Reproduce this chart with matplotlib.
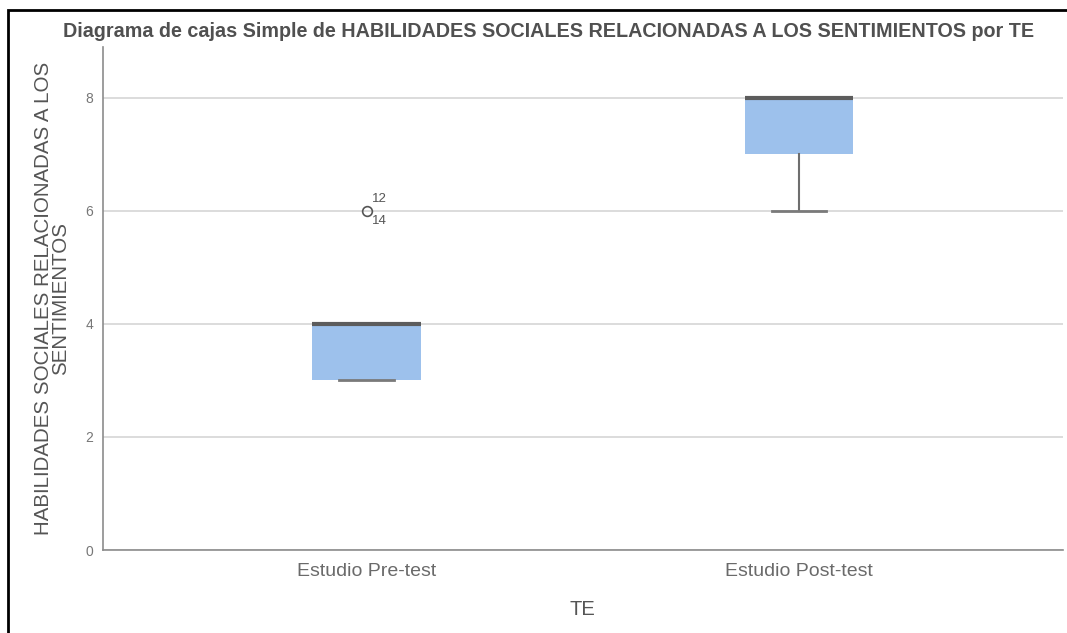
import matplotlib.pyplot as plt
from matplotlib.patches import Rectangle

# ── Data ────────────────────────────────────────────────────
groups = ["Estudio Pre-test", "Estudio Post-test"]
q1 = [3, 7]
med = [4, 8]
q3 = [4, 8]
whis_lo = [3, 6]
whis_hi = [4, 8]
fliers = [[6], []]
flier_cases = [["12", "14"], []]
yticks = [0, 2, 4, 6, 8]

plt.rcParams["font.family"] = ["Liberation Sans", "DejaVu Sans"]

fig = plt.figure(figsize=(10.67, 6.33), dpi=100)
ax = fig.add_axes([0.0965, 0.131, 0.8995, 0.795])

stats = []
for i, g in enumerate(groups):
    stats.append(dict(label=g, q1=q1[i], med=med[i], q3=q3[i],
                      whislo=whis_lo[i], whishi=whis_hi[i], fliers=fliers[i]))

pos = list(range(len(groups)))
ax.bxp(stats, positions=pos, widths=0.252, patch_artist=True,
       boxprops=dict(facecolor="#9dc1ec", edgecolor="none"),
       medianprops=dict(color="#5c5c5c", linewidth=3, solid_capstyle="butt"),
       whiskerprops=dict(color="#6e6e6e", linewidth=1.5),
       capprops=dict(color="#7a7a7a", linewidth=2),
       capwidths=0.126,
       flierprops=dict(marker="o", markerfacecolor="none", markeredgecolor="#555555",
                       markersize=7, markeredgewidth=1.2),
       zorder=3)

# case labels next to the outliers
for i, vals in enumerate(fliers):
    for v in vals:
        cases = flier_cases[i]
        ax.annotate(cases[0], (pos[i], v), xytext=(4, 4), textcoords="offset points",
                    fontsize=9.5, color="#555555", ha="left", va="bottom")
        ax.annotate(cases[1], (pos[i], v), xytext=(4, -3), textcoords="offset points",
                    fontsize=9.5, color="#555555", ha="left", va="top")

ax.set_xlim(-0.61, 1.61)
ax.set_ylim(0, 8.9)
ax.set_yticks(yticks)
ax.set_xticks(pos)
ax.set_xticklabels(groups)
ax.yaxis.grid(True, color="#d6d6d6", linewidth=1.2, zorder=0)
ax.set_axisbelow(True)
for s in ["top", "right"]:
    ax.spines[s].set_visible(False)
for s in ["left", "bottom"]:
    ax.spines[s].set_color("#8c8c8c")
    ax.spines[s].set_linewidth(1.2)
ax.tick_params(axis="y", length=0, labelsize=10, labelcolor="#777777", pad=7)
ax.tick_params(axis="x", length=0, labelsize=14, labelcolor="#6a6a6a", pad=9)

ax.set_xlabel("TE", fontsize=14.5, color="#555555", labelpad=15)
ax.set_ylabel("HABILIDADES SOCIALES RELACIONADAS A LOS\nSENTIMIENTOS",
              fontsize=14.8, color="#555555", linespacing=0.9, labelpad=11)
fig.text(0.514, 0.951, "Diagrama de cajas Simple de HABILIDADES SOCIALES "
         "RELACIONADAS A LOS SENTIMIENTOS por TE",
         ha="center", va="center", fontsize=14.2, fontweight="bold", color="#505050")

# page frame (left and top edges visible)
fig.patches.append(Rectangle((0.0075, -0.1), 1.1, 1.084, transform=fig.transFigure,
                             fill=False, edgecolor="black", linewidth=2))

fig.savefig("out.png", dpi=100)
